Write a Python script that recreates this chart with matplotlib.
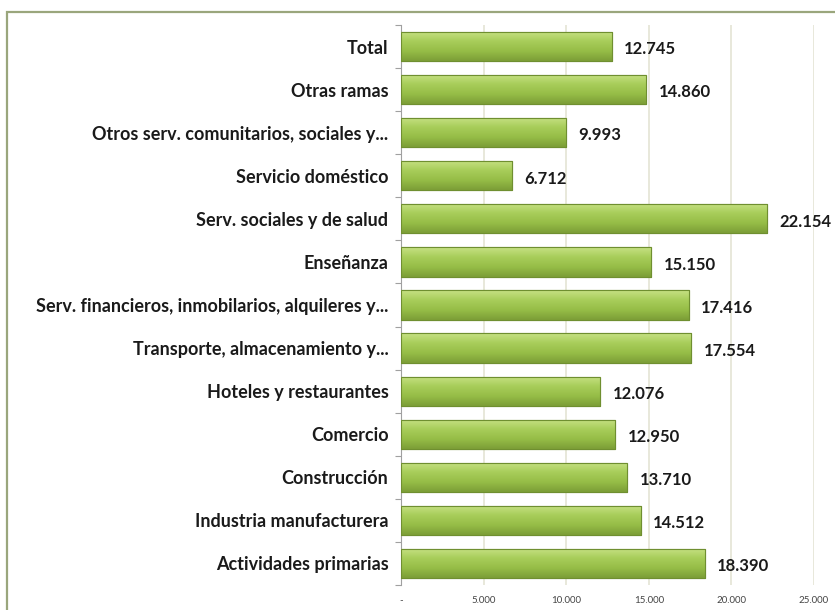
import numpy as np
import matplotlib
matplotlib.use("Agg")
import matplotlib.pyplot as plt
from matplotlib.colors import LinearSegmentedColormap
from matplotlib.patches import Rectangle

# Data (bottom to top, as drawn)
categories = [
    "Actividades primarias",
    "Industria manufacturera",
    "Construcción",
    "Comercio",
    "Hoteles y restaurantes",
    "Transporte, almacenamiento y...",
    "Serv. financieros, inmobilarios, alquileres y...",
    "Enseñanza",
    "Serv. sociales y de salud",
    "Servicio doméstico",
    "Otros serv. comunitarios, sociales y...",
    "Otras ramas",
    "Total",
]
values = [18390, 14512, 13710, 12950, 12076, 17554, 17416, 15150, 22154, 6712, 9993, 14860, 12745]
xticks = [0, 5000, 10000, 15000, 20000, 25000]
xtick_labels = ["-", "5.000", "10.000", "15.000", "20.000", "25.000"]

plt.rcParams["font.family"] = ["Lato", "DejaVu Sans"]

fig = plt.figure(figsize=(8.35, 6.1), dpi=100)
ax = fig.add_axes([401 / 835, 1 - 585 / 610, (814 - 401) / 835, (585 - 25) / 610])

y = np.arange(len(categories))
bars = ax.barh(y, values, height=0.68, color="#9cc44a", edgecolor="#6f8f30", linewidth=0.8, zorder=3)

# vertical gradient inside each bar: light on top, darker below
grad_cmap = LinearSegmentedColormap.from_list("g", ["#c6e184", "#a8cd5a", "#96bd47", "#7c9e37"])
grad = np.linspace(0, 1, 64).reshape(-1, 1)
for p in bars.patches:
    x0, y0 = p.get_x(), p.get_y()
    w, h = p.get_width(), p.get_height()
    im = ax.imshow(grad, cmap=grad_cmap, aspect="auto", extent=[x0, x0 + w, y0, y0 + h],
                   origin="upper", zorder=3.5, interpolation="bicubic")
    im.set_clip_path(p)
    ax.add_patch(Rectangle((x0, y0), w, h, fill=False, edgecolor="#6f8f30", linewidth=0.8, zorder=4))

# value labels
for v, yy in zip(values, y):
    ax.annotate(f"{v:,}".replace(",", "."), xy=(v, yy), xytext=(9, -2), textcoords="offset points",
                ha="left", va="center", fontsize=12, fontweight="bold", color="#1a1a1a")

ax.set_xlim(0, 25000)
ax.set_ylim(-0.5, len(categories) - 0.5)
ax.set_xticks(xticks)
ax.set_xticklabels(xtick_labels, fontsize=7, color="#444444")
ax.tick_params(axis="x", length=0, pad=8)
ax.set_yticks(y)
ax.set_yticklabels(categories, fontsize=13, fontweight="bold", color="#1a1a1a")
ax.set_yticks(np.arange(-0.5, len(categories), 1), minor=True)
ax.tick_params(axis="y", which="major", length=0, pad=9)
ax.tick_params(axis="y", which="minor", length=4, color="#a0a0a0", width=0.8)

ax.grid(axis="x", color="#e4e4d4", linewidth=1.2, zorder=0)
for s in ["top", "right", "bottom"]:
    ax.spines[s].set_visible(False)
ax.spines["left"].set_color("#a0a0a0")
ax.spines["left"].set_linewidth(0.8)

# outer chart frame (cropped at right and bottom)
fig.patches.append(Rectangle((7 / 835, -0.2), 1.2, 1 - 12 / 610 + 0.2, transform=fig.transFigure,
                             fill=False, edgecolor="#9aa67c", linewidth=1.6))

fig.savefig("out.png", dpi=100)
